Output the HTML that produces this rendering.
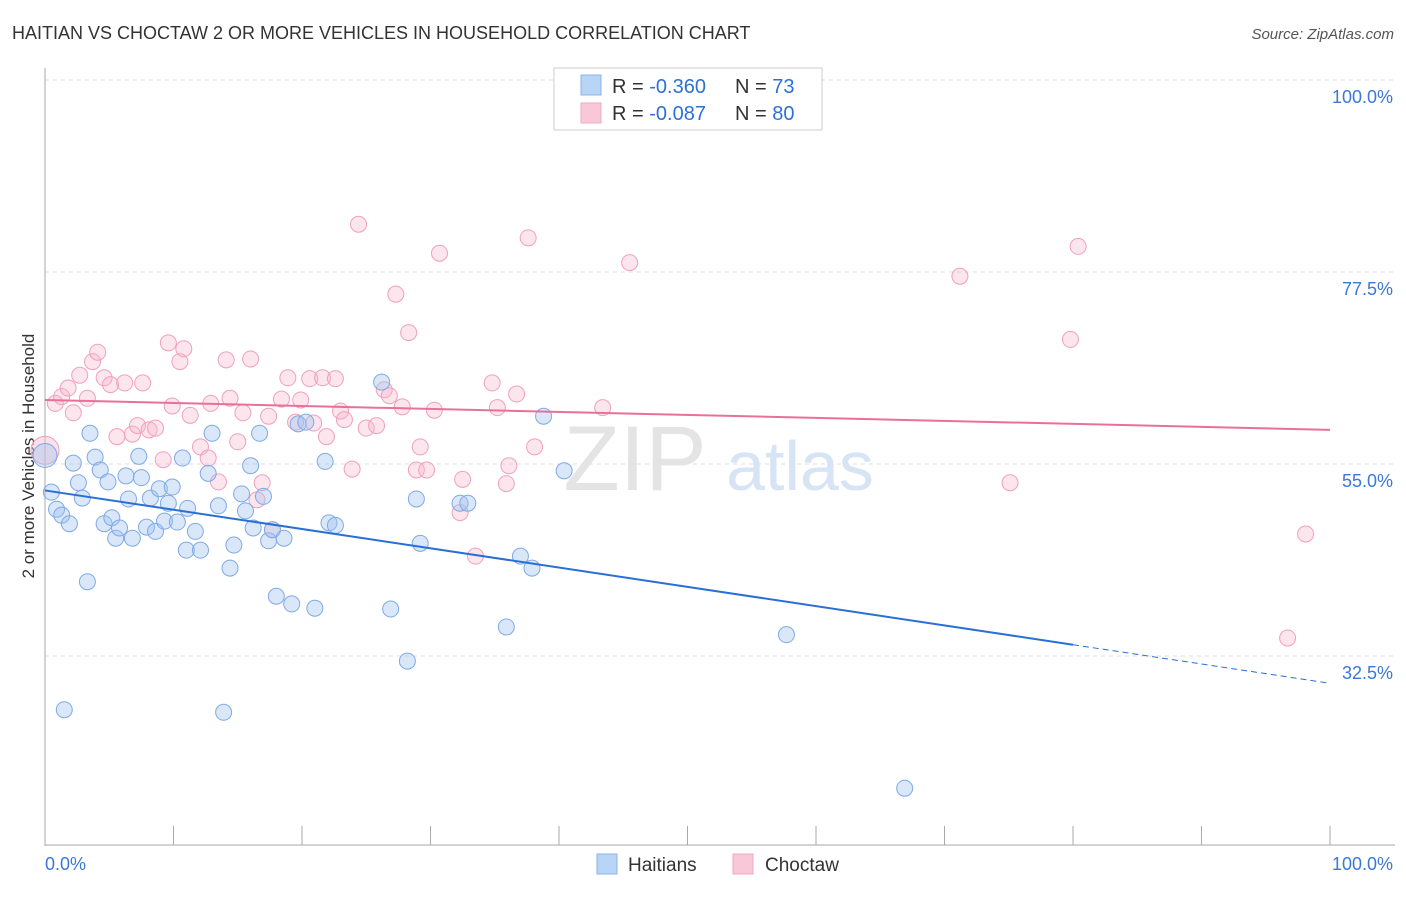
<!DOCTYPE html>
<html><head><meta charset="utf-8">
<style>
body{margin:0;background:#fff;width:1406px;height:892px;overflow:hidden;font-family:"Liberation Sans",sans-serif}
svg text{font-family:"Liberation Sans",sans-serif}
</style></head>
<body>
<svg id="chart" width="1406" height="892">
<text x="12" y="39" font-size="18" fill="#333">HAITIAN VS CHOCTAW 2 OR MORE VEHICLES IN HOUSEHOLD CORRELATION CHART</text>
<text x="1394" y="39" font-size="15" fill="#555" text-anchor="end" font-style="italic">Source: ZipAtlas.com</text>
<text x="0" y="0" font-size="17" fill="#333" transform="translate(34,456) rotate(-90)" text-anchor="middle">2 or more Vehicles in Household</text>
<g id="grid"></g>
<text x="635" y="490" font-size="92" fill="#e4e4e4" font-family="Liberation Serif" text-anchor="middle">ZIP</text>
<text x="800" y="490" font-size="70" fill="#d6e4f5" text-anchor="middle">atlas</text>
<g id="pts"></g>
<g id="lines"></g>
<g>
<rect x="554" y="68" width="268" height="62" fill="#fff" stroke="#ccc"/>
<rect x="581" y="75" width="20" height="20" fill="#b8d4f6" stroke="#8ab4e8"/>
<rect x="581" y="103" width="20" height="20" fill="#f9c8d8" stroke="#f0a8c0"/>
<text x="612" y="93" font-size="20" fill="#333">R = <tspan fill="#2a72d8">-0.360</tspan></text>
<text x="735" y="93" font-size="20" fill="#333">N = <tspan fill="#2a72d8">73</tspan></text>
<text x="612" y="120" font-size="20" fill="#333">R = <tspan fill="#2a72d8">-0.087</tspan></text>
<text x="735" y="120" font-size="20" fill="#333">N = <tspan fill="#2a72d8">80</tspan></text>
</g>
<g>
<rect x="597" y="854" width="20" height="20" fill="#b8d4f6" stroke="#8ab4e8"/>
<text x="628" y="871" font-size="19" fill="#333">Haitians</text>
<rect x="733" y="854" width="20" height="20" fill="#f9c8d8" stroke="#f0a8c0"/>
<text x="765" y="871" font-size="19" fill="#333">Choctaw</text>
</g>
</svg>
<script>
const yTicks=[100,77.5,55,32.5];
const xTickLabels=["0.0%","100.0%"];
const blueX=[0.5,0.9,1.3,1.9,1.5,2.2,2.6,2.9,3.3,3.5,3.9,4.3,4.6,4.9,5.2,5.5,5.8,6.3,6.5,6.8,7.3,7.5,7.9,8.2,8.6,8.9,9.3,9.6,9.9,10.3,10.7,11.0,11.1,11.7,12.1,12.7,13.0,13.5,13.9,14.4,14.7,15.3,15.6,16.0,16.2,16.7,17.0,17.4,17.7,18.0,18.6,19.2,19.7,20.3,21.0,21.8,22.1,22.6,26.2,26.9,28.2,28.9,29.2,32.3,32.9,35.9,37.0,37.9,38.8,40.4,57.7,66.9];
const blueY=[51.7,49.7,49.0,48.0,26.2,55.1,52.8,51.0,41.2,58.6,55.8,54.3,48.0,52.9,48.7,46.3,47.5,53.6,50.9,46.3,55.9,53.4,47.6,51.0,47.1,52.1,48.3,50.4,52.3,48.2,55.7,44.9,49.8,47.1,44.9,53.9,58.6,50.1,25.9,42.8,45.5,51.5,49.5,54.8,47.5,58.6,51.2,46.0,47.3,39.5,46.3,38.6,59.7,59.9,38.1,55.3,48.1,47.8,64.6,38.0,31.9,50.9,45.7,50.4,50.4,35.9,44.2,42.8,60.6,54.2,35.0,17.0];
const pinkX=[0.8,1.3,1.8,2.2,2.7,3.3,3.7,4.1,4.6,5.1,5.6,6.2,6.8,7.2,7.6,8.1,8.6,9.2,9.6,9.9,10.5,10.8,11.3,12.1,12.7,12.9,13.5,14.1,14.4,15.0,15.4,16.0,16.5,16.9,17.4,18.4,18.9,19.5,19.9,20.6,20.9,21.6,21.9,22.6,23.0,23.3,23.9,24.4,25.0,25.8,26.4,26.8,27.3,27.8,28.3,28.9,29.2,29.7,30.3,30.7,32.3,32.5,33.5,34.8,35.2,35.9,36.1,36.7,37.6,38.1,43.4,45.5,71.2,75.1,79.8,80.4,96.7,98.1,17.7];
const pinkY=[62.1,62.9,63.9,61.0,65.4,62.7,67.0,68.1,65.1,64.3,58.2,64.5,58.5,59.5,64.5,59.0,59.2,55.5,69.2,61.8,67.0,68.5,60.7,57.0,55.7,62.1,52.9,67.2,62.7,57.6,61.0,67.3,50.8,52.8,60.6,62.6,65.1,59.9,62.5,65.0,59.8,65.1,58.2,65.0,61.2,60.2,54.4,83.1,59.2,59.5,63.7,63.0,74.9,61.7,70.4,54.3,57.0,54.3,61.3,79.7,49.3,53.2,44.2,64.5,61.6,52.7,54.8,63.2,81.5,57.0,61.6,78.6,77.0,52.8,69.6,80.5,34.6,46.8,47.3];
const blueTrend=[51.9,29.3];
const pinkTrend=[62.5,59.0];
const bigBlue=[0.0,56.0], bigPink=[0.0,56.6];

const X=v=>45+v*12.85;
const Y=v=>80+(100-v)*8.533;
const NS="http://www.w3.org/2000/svg";
function mk(tag,attrs,parent){const e=document.createElementNS(NS,tag);for(const k in attrs)e.setAttribute(k,attrs[k]);parent.appendChild(e);return e;}
const grid=document.getElementById('grid');
yTicks.forEach(t=>{
 const l=mk('line',{x1:45,x2:1395,y1:Y(t),y2:Y(t),stroke:'#ddd','stroke-dasharray':'4,4'},grid);
 
 
 const tx=mk('text',{x:1393,y:Y(t)+23,'font-size':18,fill:'#3a78d8','text-anchor':'end'},grid);
 tx.textContent=t.toFixed(1)+'%';
 
 
});
const ax=mk('line',{x1:45,x2:45,y1:68,y2:846,stroke:'#aaa'},grid);


const bx=mk('line',{x1:45,x2:1395,y1:845,y2:845,stroke:'#aaa'},grid);


for(let i=1;i<=10;i++){mk('line',{x1:X(i*10),x2:X(i*10),y1:826,y2:845,stroke:'#aaa'},grid);}
const xl=mk('text',{x:45,y:870,'font-size':18,fill:'#3a78d8'},grid);xl.textContent=xTickLabels[0];


const xr=mk('text',{x:1393,y:870,'font-size':18,fill:'#3a78d8','text-anchor':'end'},grid);xr.textContent=xTickLabels[1];



const pts=document.getElementById('pts');
function dot(x,y,r,fill,stroke,name){const c=mk('circle',{cx:X(x),cy:Y(y),r:r,fill:fill,stroke:stroke,'stroke-width':1},pts);
 
 }
pinkX.forEach((x,i)=>dot(x,pinkY[i],8,'rgba(246,180,202,0.35)','#f0a0bc','choctaw-point'));
blueX.forEach((x,i)=>dot(x,blueY[i],8,'rgba(160,196,240,0.4)','#7eaae6','haitian-point'));
dot(bigPink[0],bigPink[1],14,'rgba(246,180,202,0.4)','#f0a0bc','choctaw-point');
dot(bigBlue[0],bigBlue[1],12,'rgba(160,196,240,0.4)','#7eaae6','haitian-point');

const lines=document.getElementById('lines');
const bt=x=>blueTrend[0]+(blueTrend[1]-blueTrend[0])*x/100;
const b1=mk('line',{x1:X(0),y1:Y(bt(0)),x2:X(80),y2:Y(bt(80)),stroke:'#2a6fd6','stroke-width':2},lines);


const b2=mk('line',{x1:X(80),y1:Y(bt(80)),x2:X(100),y2:Y(bt(100)),stroke:'#2a6fd6','stroke-width':1,'stroke-dasharray':'6,4'},lines);


const p1=mk('line',{x1:X(0),y1:Y(pinkTrend[0]),x2:X(100),y2:Y(pinkTrend[1]),stroke:'#e8709a','stroke-width':2},lines);


</script>
</body></html>
